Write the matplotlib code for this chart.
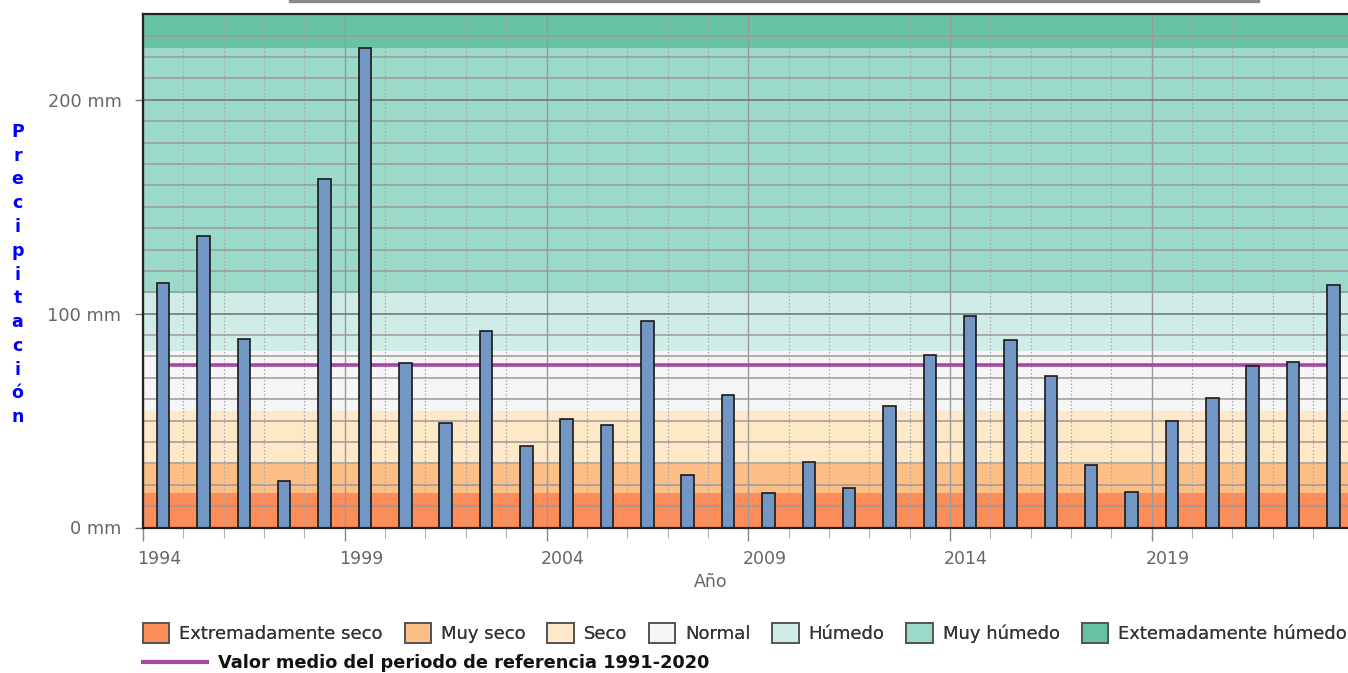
import matplotlib
matplotlib.use("Agg")
import matplotlib.pyplot as plt
from matplotlib.lines import Line2D
from matplotlib.patches import Patch
from matplotlib.ticker import MultipleLocator, FixedLocator, FuncFormatter
from matplotlib.transforms import ScaledTranslation

# data ------------------------------------------------------------------
years = list(range(1994, 2024))
precip = [114.3, 136.5, 88.2, 21.8, 163.1, 224.2, 76.8, 48.8, 91.8, 38.3,
          50.8, 48.0, 96.8, 24.7, 61.9, 16.3, 30.5, 18.6, 56.9, 80.7,
          99.1, 87.6, 71.0, 29.4, 16.5, 49.8, 60.7, 75.7, 77.6, 113.5]
mean_ref = 76.0

# class thresholds (mm) and colours
band_edges = [0, 16.1, 29.7, 54.6, 82.6, 109.7, 224.2, 240]
band_names = ["Extremadamente seco", "Muy seco", "Seco", "Normal",
              "Húmedo", "Muy húmedo", "Extemadamente húmedo"]
band_colors = ["#FC8D59", "#FDBF86", "#FEE8C8", "#F5F5F5",
               "#CFEDE6", "#9BD9C9", "#68C3A6"]

W, H = 1348, 673
fig = plt.figure(figsize=(W / 100, H / 100), dpi=100)
plt.rcParams["font.family"] = ["DejaVu Sans"]

x0, x1 = years[0], years[-1] + 1
px_per_year = 40.35
ax = fig.add_axes([143 / W, (H - 527.5) / H,
                   (x1 - x0) * px_per_year / W, (527.5 - 14.3) / H])
ax.set_xlim(x0, x1)
ax.set_ylim(0, band_edges[-1])

# background bands
for lo, hi, c in zip(band_edges[:-1], band_edges[1:], band_colors):
    ax.axhspan(lo, hi, color=c, lw=0, zorder=0)

# grid
ax.yaxis.set_major_locator(MultipleLocator(100))
ax.yaxis.set_minor_locator(MultipleLocator(10))
ax.xaxis.set_major_locator(FixedLocator(range(1994, 2024, 5)))
ax.xaxis.set_minor_locator(MultipleLocator(1))
ax.grid(which="major", axis="y", color="#707070", lw=1.1, zorder=1)
ax.grid(which="minor", axis="y", color="#9a9a9a", lw=1.1, zorder=1)
ax.grid(which="major", axis="x", color="#9a9a9a", lw=1.0, zorder=1)
ax.grid(which="minor", axis="x", color="#a8a8a8", lw=0.9, ls=(0, (1.2, 1.6)), zorder=1)
ax.set_axisbelow(True)

# mean line (from first to last bar centre)
centres = [y + 0.5 for y in years]
ax.hlines(mean_ref, centres[0], centres[-1], color="#A349A4", lw=2.6, zorder=2)

# bars
ax.bar(centres, precip, width=0.31, color="#7397C5", edgecolor="#1a1a1a",
       lw=1.2, zorder=3)

# axes styling
for s in ["left", "bottom", "top"]:
    ax.spines[s].set_color("#222222")
    ax.spines[s].set_linewidth(1.6)
    ax.spines[s].set_zorder(4)
ax.spines["right"].set_visible(False)

ax.yaxis.set_major_formatter(FuncFormatter(lambda v, p: f"{v:.0f} mm"))
ax.tick_params(axis="y", which="major", length=6, width=1, color="#777777",
               labelsize=12.8, labelcolor="#666666", pad=9.5)
ax.tick_params(axis="y", which="minor", length=0)
ax.tick_params(axis="x", which="major", length=9, width=1, color="#888888",
               labelsize=12.5, labelcolor="#666666", pad=7)
ax.tick_params(axis="x", which="minor", length=7, width=0.8, color="#b0b0b0")
shift = ScaledTranslation(-6 / 100, 0, fig.dpi_scale_trans)
for lab in ax.get_xticklabels():
    lab.set_ha("left")
    lab.set_transform(lab.get_transform() + shift)

fig.text(711 / W, 1 - 582 / H, "Año", ha="center", va="center",
         fontsize=12.5, color="#666666")

# stacked vertical y label
word = "Precipitación"
for i, ch in enumerate(word):
    fig.text(17.5 / W, 1 - (132 + i * 23.75) / H, ch, ha="center", va="center",
             fontsize=12.5, fontweight="bold", color="#0000FF")

# thin grey rule at top
fig.add_artist(Line2D([290 / W, 1258 / W], [1 - 1.2 / H, 1 - 1.2 / H],
                      color="#888888", lw=2.4))

# legends
handles = [Patch(facecolor=c, edgecolor="#555555", lw=1.4) for c in band_colors]
leg1 = fig.legend(handles, band_names, loc="center left",
                  bbox_to_anchor=(143 / W, 1 - 633 / H), ncol=7, frameon=False,
                  fontsize=13, borderpad=0, borderaxespad=0,
                  handlelength=1.45, handleheight=1.4, handletextpad=0.55,
                  columnspacing=1.22, labelcolor="#333333")
fig.add_artist(leg1)
line_h = [Line2D([0], [0], color="#A349A4", lw=3)]
fig.legend(line_h, ["Valor medio del periodo de referencia 1991-2020"],
           loc="center left", bbox_to_anchor=(143 / W, 1 - 663 / H),
           frameon=False, borderpad=0, borderaxespad=0,
           prop={"size": 12.75, "weight": "bold"},
           handlelength=3.6, handletextpad=0.62, labelcolor="#111111")

fig.savefig("out.png", dpi=100)
